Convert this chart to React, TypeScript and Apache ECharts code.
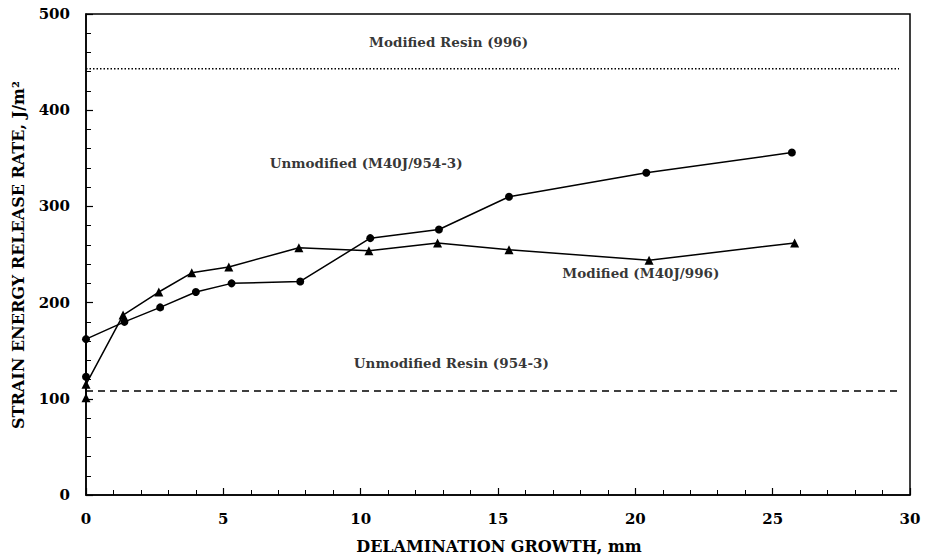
import React, { useEffect, useRef } from "react";
import * as echarts from "echarts";

// Unmodified (M40J/954-3) — circles
const unmodX = [0, 0, 1.4, 2.7, 4.0, 5.3, 7.8, 10.35, 12.85, 15.4, 20.4, 25.7];
const unmodY = [123, 162, 180, 195, 211, 220, 222, 267, 276, 310, 335, 356];

// Modified (M40J/996) — triangles
const modX = [0, 0, 1.35, 2.65, 3.85, 5.2, 7.75, 10.3, 12.8, 15.4, 20.5, 25.8];
const modY = [101, 115, 187, 211, 231, 237, 257, 254, 262, 255, 244, 262];

// Neat resin reference levels
const modifiedResinLevel = 443;
const unmodifiedResinLevel = 108;
const resinLineEndX = 29.6;

// Annotations
const annotationTexts = [
  "Modified Resin (996)",
  "Unmodified (M40J/954-3)",
  "Modified (M40J/996)",
  "Unmodified Resin (954-3)",
];
const annotationX = [13.2, 10.2, 20.2, 13.3];
const annotationY = [471, 345, 231, 137];

const xTitle = "DELAMINATION GROWTH, mm";
const yTitle = "STRAIN ENERGY RELEASE RATE, J/m\u00B2";

const FONT = "'DejaVu Serif', serif";

export default function App() {
  const ref = useRef<HTMLDivElement>(null);
  useEffect(() => {
    document.body.style.margin = "0";
    if (!ref.current) return;
    const chart = echarts.init(ref.current, undefined, { renderer: "svg" });
    const axisLabel = {
      color: "#000",
      fontFamily: FONT,
      fontWeight: "bold" as const,
      fontSize: 15,
    };
    chart.setOption({
      animation: false,
      backgroundColor: "#fff",
      grid: {
        left: 86,
        right: 15,
        top: 14,
        bottom: 62,
        show: true,
        borderColor: "#000",
        borderWidth: 1.5,
        backgroundColor: "transparent",
      },
      xAxis: {
        type: "value",
        min: 0,
        max: 30,
        interval: 5,
        axisLine: { lineStyle: { color: "#000", width: 1.5 } },
        axisTick: { inside: true, length: 7, lineStyle: { color: "#000", width: 1.2 } },
        minorTick: { show: true, splitNumber: 5, length: 5, lineStyle: { color: "#000", width: 1 } },
        splitLine: { show: false },
        axisLabel: { ...axisLabel, margin: 16 },
      },
      yAxis: {
        type: "value",
        min: 0,
        max: 500,
        interval: 100,
        axisLine: { lineStyle: { color: "#000", width: 1.5 } },
        axisTick: { inside: true, length: 7, lineStyle: { color: "#000", width: 1.2 } },
        minorTick: { show: true, splitNumber: 5, length: 5, lineStyle: { color: "#000", width: 1 } },
        splitLine: { show: false },
        axisLabel: { ...axisLabel, margin: 16 },
      },
      graphic: [
        {
          type: "text",
          x: 499,
          y: 546,
          style: {
            text: xTitle,
            font: `bold 16px ${FONT}`,
            fill: "#000",
            align: "center",
            verticalAlign: "middle",
          },
        },
        {
          type: "text",
          x: 18,
          y: 255,
          rotation: Math.PI / 2,
          style: {
            text: yTitle,
            font: `bold 16px ${FONT}`,
            fill: "#000",
            align: "center",
            verticalAlign: "middle",
          },
        },
      ],
      series: [
        {
          type: "line",
          name: "Unmodified (M40J/954-3)",
          data: unmodX.map((x, i) => [x, unmodY[i]]),
          symbol: "circle",
          symbolSize: 8,
          itemStyle: { color: "#000" },
          lineStyle: { color: "#000", width: 1.5 },
          z: 5,
        },
        {
          type: "line",
          name: "Modified (M40J/996)",
          data: modX.map((x, i) => [x, modY[i]]),
          symbol: "triangle",
          symbolSize: 9,
          itemStyle: { color: "#000" },
          lineStyle: { color: "#000", width: 1.5 },
          z: 5,
        },
        {
          type: "line",
          name: "Modified Resin (996)",
          data: [
            [0, modifiedResinLevel],
            [resinLineEndX, modifiedResinLevel],
          ],
          symbol: "none",
          lineStyle: { color: "#000", width: 1.5, type: [1.5, 2] },
        },
        {
          type: "line",
          name: "Unmodified Resin (954-3)",
          data: [
            [0, unmodifiedResinLevel],
            [resinLineEndX, unmodifiedResinLevel],
          ],
          symbol: "none",
          lineStyle: { color: "#000", width: 1.5, type: [7, 5] },
        },
        {
          type: "scatter",
          name: "annotations",
          data: annotationX.map((x, i) => ({ value: [x, annotationY[i]], name: annotationTexts[i] })),
          symbolSize: 0,
          silent: true,
          label: {
            show: true,
            position: "inside",
            formatter: (p: any) => p.name,
            color: "#000",
            fontFamily: FONT,
            fontWeight: "bold",
            fontSize: 13.5,
          },
        },
      ],
    });
    return () => chart.dispose();
  }, []);
  return <div ref={ref} style={{ width: 925, height: 557 }} />;
}
